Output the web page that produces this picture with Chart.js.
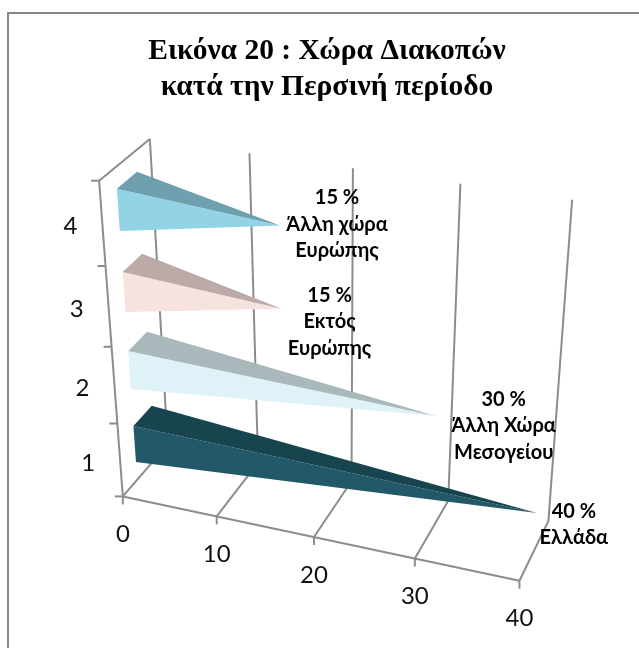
<!DOCTYPE html>
<html lang="el">
  <head>
    <meta charset="UTF-8" />
    <title>Χώρα Διακοπών</title>
    <script src="https://cdn.jsdelivr.net/npm/chart.js"></script>
    <style>
      body { margin: 0; background: #fff; }
      canvas { display: block; }
    </style>
  </head>
  <body>
    <canvas id="chart" width="639" height="648"></canvas>
    <script>
      const categories = ["1", "2", "3", "4"];
      const values = [40, 30, 15, 15];
      const valueTicks = [0, 10, 20, 30, 40];
      const titleLines = ["Εικόνα 20 : Χώρα Διακοπών", "κατά την Περσινή περίοδο"];
      const barLabels = [
        ["40 %", "Ελλάδα"],
        ["30 %", "Άλλη Χώρα", "Μεσογείου"],
        ["15 %", "Εκτός", "Ευρώπης"],
        ["15 %", "Άλλη χώρα", "Ευρώπης"],
      ];
      const frontColors = ["#215968", "#dff2f8", "#f6e2df", "#92d3e5"];
      const topColors = ["#17444f", "#a8b8bb", "#bbaaa8", "#6fa0b0"];
      // where each label block sits relative to the tip of its bar
      const labelOffsets = [[37, 11.5], [68, 10], [48, 13], [57, -1]];

      const lineGrey = "#8c8c8c";
      const tickFont = '24px Lato, "Open Sans", sans-serif';
      const labelFont = 'bold 20px Lato, "Open Sans", sans-serif';

      // the 3D box as it appears on the picture: [u, w, d] -> screen point
      const boxFit = [
        [0, 0, 0, 122.7, 495], [1, 0, 0, 520, 581.7], [0, 1, 0, 99.3, 181.7],
        [0, 0, 1, 168, 446], [1, 0, 1, 548, 520], [0, 1, 1, 150, 138],
        [1, 1, 1, 572, 200], [0.5, 0, 0, 314, 536.7], [0, 0.5, 0, 111, 346.7],
        [0.5, 1, 1, 353, 168],
      ];

      // least squares perspective matrix from the fit points
      function solveCamera(pts) {
        const n = 11;
        const A = Array.from({ length: n }, () => new Array(n + 1).fill(0));
        function addRow(row, rhs) {
          for (let i = 0; i < n; i++) {
            for (let j = 0; j < n; j++) A[i][j] += row[i] * row[j];
            A[i][n] += row[i] * rhs;
          }
        }
        pts.forEach(([u, w, d, X, Y]) => {
          addRow([u, w, d, 1, 0, 0, 0, 0, -X * u, -X * w, -X * d], X);
          addRow([0, 0, 0, 0, u, w, d, 1, -Y * u, -Y * w, -Y * d], Y);
        });
        for (let c = 0; c < n; c++) {
          let best = c;
          for (let r = c + 1; r < n; r++) {
            if (Math.abs(A[r][c]) > Math.abs(A[best][c])) best = r;
          }
          [A[c], A[best]] = [A[best], A[c]];
          for (let r = 0; r < n; r++) {
            if (r === c) continue;
            const f = A[r][c] / A[c][c];
            for (let k = c; k <= n; k++) A[r][k] -= f * A[c][k];
          }
        }
        return A.map((row, i) => row[n] / row[i]);
      }
      const cam = solveCamera(boxFit);

      function project(u, w, d) {
        const q = cam[8] * u + cam[9] * w + cam[10] * d + 1;
        return [
          (cam[0] * u + cam[1] * w + cam[2] * d + cam[3]) / q,
          (cam[4] * u + cam[5] * w + cam[6] * d + cam[7]) / q,
        ];
      }

      function polygon(ctx, pts, color) {
        ctx.beginPath();
        pts.forEach((p, i) => (i ? ctx.lineTo(p[0], p[1]) : ctx.moveTo(p[0], p[1])));
        ctx.closePath();
        ctx.fillStyle = color;
        ctx.fill();
      }

      function segment(ctx, a, b) {
        ctx.beginPath();
        ctx.moveTo(a[0], a[1]);
        ctx.lineTo(b[0], b[1]);
        ctx.stroke();
      }

      // value on the x scale -> 0..1 across the box
      function uOf(chart, v) {
        const x = chart.scales.x;
        return (x.getPixelForValue(v) - x.left) / x.width;
      }
      // category index on the y scale -> 0..1 up the box
      function wOf(chart, i) {
        const y = chart.scales.y;
        return (y.bottom - y.getPixelForValue(i)) / y.height;
      }

      const box3d = {
        id: "box3d",
        beforeDraw(chart) {
          const ctx = chart.ctx;
          ctx.save();
          ctx.fillStyle = "#fff";
          ctx.fillRect(0, 0, chart.width, chart.height);
          ctx.fillStyle = "#868686";
          ctx.fillRect(7, 12, chart.width - 7, 2);
          ctx.fillRect(7, 12, 2, chart.height - 12);
          ctx.restore();
        },
        beforeDatasetsDraw(chart) {
          const ctx = chart.ctx;
          ctx.save();
          ctx.strokeStyle = lineGrey;
          ctx.lineWidth = 2;
          valueTicks.forEach((v) => {
            const u = uOf(chart, v);
            segment(ctx, project(u, 0, 0), project(u, 0, 1));
            segment(ctx, project(u, 0, 1), project(u, 1, 1));
            const foot = project(u, 0, 0);
            segment(ctx, foot, [foot[0], foot[1] + 8]);
          });
          segment(ctx, project(0, 0, 0), project(1, 0, 0));
          segment(ctx, project(0, 0, 0), project(0, 1, 0));
          segment(ctx, project(0, 1, 0), project(0, 1, 1));
          for (let i = 0; i <= categories.length; i++) {
            const p = project(0, i / categories.length, 0);
            segment(ctx, p, [p[0] - 8, p[1]]);
          }
          ctx.restore();
        },
        afterDatasetsDraw(chart) {
          const ctx = chart.ctx;
          const halfW = 0.25 / categories.length;
          ctx.save();
          ctx.textAlign = "center";
          ctx.textBaseline = "middle";

          values.forEach((v, i) => {
            const w = wOf(chart, i);
            const tip = project(uOf(chart, v), w, 0.5);
            const frontTop = project(0, w + halfW, 0.31);
            const frontBottom = project(0, w - halfW, 0.31);
            const backTop = project(0, w + halfW, 0.71);
            polygon(ctx, [frontTop, frontBottom, tip], frontColors[i]);
            polygon(ctx, [frontTop, backTop, tip], topColors[i]);
          });

          ctx.fillStyle = "#111";
          ctx.font = tickFont;
          valueTicks.forEach((v) => {
            const p = project(uOf(chart, v), 0, 0);
            ctx.fillText(String(v), p[0], p[1] + 38);
          });
          categories.forEach((c, i) => {
            const p = project(0, wOf(chart, i), 0);
            ctx.fillText(c, p[0] - 32, p[1] + 2.5);
          });

          ctx.fillStyle = "#000";
          ctx.font = labelFont;
          values.forEach((v, i) => {
            const tip = project(uOf(chart, v), wOf(chart, i), 0.5);
            const lines = barLabels[i];
            lines.forEach((line, k) => {
              const dy = (k - (lines.length - 1) / 2) * 26.5;
              ctx.fillText(line, tip[0] + labelOffsets[i][0], tip[1] + labelOffsets[i][1] + dy);
            });
          });
          ctx.restore();
        },
      };

      new Chart(document.getElementById("chart"), {
        type: "bar",
        data: {
          labels: categories,
          datasets: [{ data: values, backgroundColor: "transparent", borderWidth: 0 }],
        },
        plugins: [box3d],
        options: {
          indexAxis: "y",
          responsive: false,
          animation: false,
          layout: { padding: { left: 15 } },
          scales: {
            x: { display: false, min: 0, max: 40 },
            y: { display: false, reverse: true },
          },
          plugins: {
            legend: { display: false },
            tooltip: { enabled: false },
            title: {
              display: true,
              text: titleLines,
              color: "#000",
              font: { family: '"Liberation Serif"', size: 29.5, weight: "bold", lineHeight: 1.2 },
              padding: { top: 34, bottom: 10 },
            },
          },
        },
      });
    </script>
  </body>
</html>
